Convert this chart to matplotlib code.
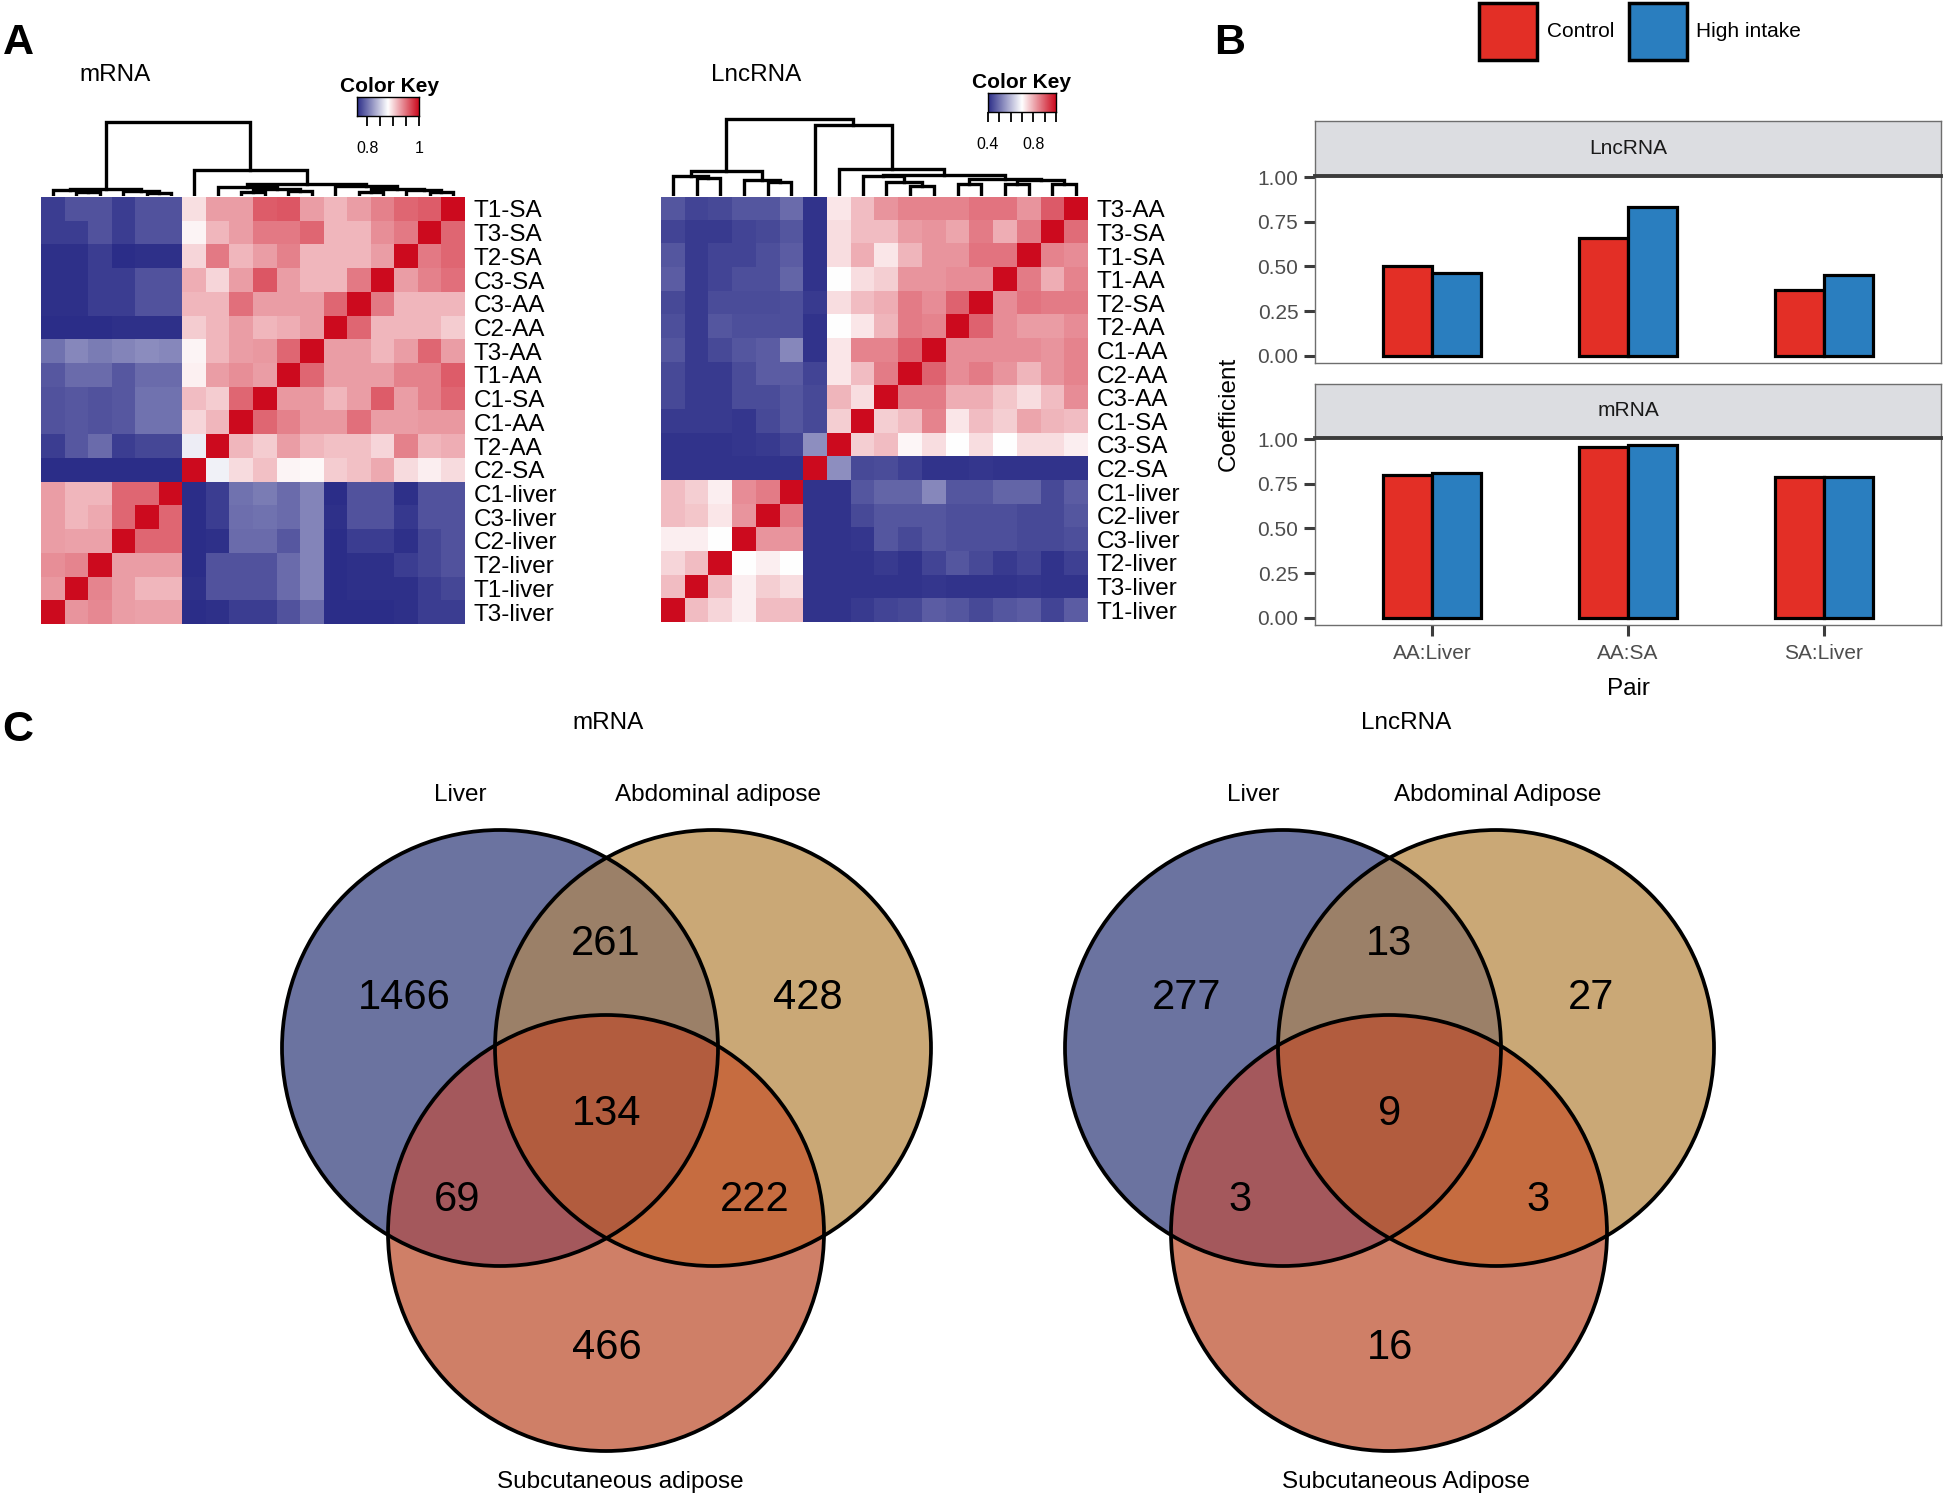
import numpy as np
import matplotlib
matplotlib.use("Agg")
import matplotlib.pyplot as plt
from matplotlib.colors import LinearSegmentedColormap, to_rgba
from matplotlib.patches import Patch, Circle

plt.rcParams['font.family'] = ['Liberation Sans', 'DejaVu Sans']

# ---------------- data ----------------
mrna_rows = ["T1-SA", "T3-SA", "T2-SA", "C3-SA", "C3-AA", "C2-AA", "T3-AA", "T1-AA", "C1-SA",
             "C1-AA", "T2-AA", "C2-SA", "C1-liver", "C3-liver", "C2-liver", "T2-liver", "T1-liver", "T3-liver"]
mrna_corr = np.array([
    [.770, .782, .782, .770, .782, .782, .895, .927, .927, .959, .962, .927, .915, .927, .941, .955, .959, 1.0],
    [.770, .770, .782, .770, .782, .782, .885, .915, .927, .945, .945, .955, .915, .915, .935, .945, 1.0, .955],
    [.762, .762, .770, .760, .762, .762, .900, .945, .915, .927, .941, .915, .915, .915, .927, 1.0, .945, .955],
    [.762, .762, .770, .770, .782, .782, .920, .900, .927, .962, .927, .915, .915, .945, 1.0, .927, .941, .950],
    [.762, .762, .770, .770, .782, .782, .915, .915, .950, .927, .927, .927, .955, 1.0, .945, .915, .915, .915],
    [.760, .760, .760, .762, .762, .762, .905, .915, .927, .915, .920, .927, 1.0, .955, .915, .915, .915, .905],
    [.800, .812, .805, .810, .815, .812, .885, .915, .927, .930, .955, 1.0, .927, .927, .915, .927, .955, .927],
    [.785, .796, .796, .785, .796, .796, .887, .927, .935, .927, 1.0, .955, .927, .927, .927, .941, .941, .959],
    [.782, .785, .782, .785, .800, .800, .912, .905, .955, 1.0, .930, .930, .915, .927, .959, .927, .941, .955],
    [.782, .785, .782, .785, .800, .800, .900, .915, 1.0, .955, .941, .930, .930, .950, .927, .927, .930, .930],
    [.770, .785, .796, .770, .775, .775, .870, 1.0, .915, .905, .927, .915, .910, .910, .900, .941, .915, .920],
    [.760, .760, .760, .760, .760, .760, 1.0, .872, .897, .910, .885, .883, .905, .910, .922, .897, .888, .897],
    [.927, .915, .915, .955, .955, 1.0, .760, .770, .800, .805, .796, .810, .760, .782, .782, .762, .782, .782],
    [.927, .915, .922, .955, 1.0, .955, .760, .770, .798, .800, .796, .810, .762, .782, .782, .767, .782, .782],
    [.927, .925, .925, 1.0, .955, .955, .760, .762, .796, .796, .785, .810, .760, .770, .770, .762, .775, .782],
    [.935, .940, 1.0, .927, .927, .927, .760, .782, .782, .782, .796, .810, .760, .762, .762, .770, .775, .782],
    [.930, 1.0, .940, .927, .915, .915, .762, .782, .782, .782, .796, .810, .760, .762, .762, .762, .770, .775],
    [1.0, .932, .938, .927, .925, .925, .760, .762, .770, .770, .782, .796, .760, .760, .760, .762, .770, .770],
])
# dendrogram merges (child_a, child_b, height); leaves 0..17, merge k -> id 18+k
mrna_merges = [(1, 2, 2), (0, 18, 4), (4, 5, 1.5), (3, 20, 3), (19, 21, 5.5),
               (8, 9, 2.5), (10, 11, 3), (23, 24, 5), (7, 25, 7),
               (13, 14, 2.5), (16, 17, 2), (15, 28, 4), (27, 29, 5.5), (12, 30, 8),
               (26, 31, 10), (6, 32, 24), (22, 33, 72)]

lnc_rows = ["T3-AA", "T3-SA", "T1-SA", "T1-AA", "T2-SA", "T2-AA", "C1-AA", "C2-AA", "C3-AA",
            "C1-SA", "C3-SA", "C2-SA", "C1-liver", "C2-liver", "C3-liver", "T2-liver", "T3-liver", "T1-liver"]
lnc_corr = np.array([
    [.46, .435, .44, .46, .46, .49, .41, .73, .78, .83, .85, .85, .85, .87, .87, .83, .90, 1.0],
    [.435, .42, .42, .435, .44, .46, .41, .74, .78, .78, .82, .83, .81, .86, .80, .86, 1.0, .88],
    [.46, .42, .435, .435, .45, .47, .41, .74, .80, .73, .79, .83, .83, .87, .87, 1.0, .85, .84],
    [.47, .42, .435, .45, .45, .48, .41, .70, .74, .76, .83, .83, .84, .84, 1.0, .86, .80, .85],
    [.44, .42, .445, .445, .445, .45, .42, .74, .78, .80, .86, .84, .89, 1.0, .84, .87, .86, .86],
    [.45, .42, .46, .45, .45, .45, .41, .70, .73, .79, .86, .85, 1.0, .89, .84, .82, .82, .84],
    [.46, .42, .44, .46, .47, .53, .41, .73, .85, .85, .89, 1.0, .84, .84, .84, .84, .83, .85],
    [.44, .42, .42, .445, .47, .47, .435, .73, .78, .86, 1.0, .89, .84, .86, .83, .79, .83, .85],
    [.44, .42, .42, .445, .445, .46, .44, .79, .74, 1.0, .86, .86, .80, .80, .77, .74, .78, .84],
    [.42, .42, .42, .415, .44, .46, .44, .76, 1.0, .76, .78, .85, .73, .78, .76, .81, .79, .78],
    [.41, .41, .41, .415, .42, .435, .54, 1.0, .76, .78, .71, .74, .70, .74, .70, .74, .74, .72],
    [.41, .41, .41, .41, .41, .41, 1.0, .54, .44, .445, .43, .41, .41, .415, .41, .41, .41, .41],
    [.78, .76, .72, .84, .86, 1.0, .41, .41, .46, .48, .48, .53, .46, .46, .48, .48, .44, .47],
    [.78, .77, .73, .83, 1.0, .86, .41, .41, .44, .46, .46, .46, .45, .45, .45, .44, .44, .46],
    [.72, .72, .70, 1.0, .83, .83, .41, .41, .415, .46, .44, .46, .45, .45, .45, .44, .44, .45],
    [.75, .78, 1.0, .70, .72, .70, .41, .41, .41, .42, .41, .435, .46, .44, .42, .435, .41, .43],
    [.78, 1.0, .78, .72, .76, .74, .41, .41, .41, .41, .41, .415, .41, .41, .41, .415, .41, .41],
    [1.0, .78, .75, .72, .78, .78, .41, .41, .42, .435, .44, .47, .46, .44, .46, .47, .435, .47],
])
lnc_merges = [(1, 2, 16), (0, 18, 18), (4, 5, 12), (3, 20, 14), (19, 21, 23),
              (10, 11, 8), (9, 23, 12), (8, 24, 18),
              (12, 13, 10), (14, 15, 10), (16, 17, 10), (27, 28, 14), (26, 29, 15),
              (25, 30, 19), (7, 31, 25), (6, 32, 69.5), (22, 33, 75)]

mrna_key_range = (0.76, 1.0)
mrna_key_ticks = [0.8, 0.85, 0.9, 0.95, 1.0]
mrna_key_labels = ["0.8", "", "", "", "1"]
lnc_key_range = (0.4, 1.0)
lnc_key_ticks = [0.4, 0.5, 0.6, 0.7, 0.8, 0.9, 1.0]
lnc_key_labels = ["0.4", "", "", "", "0.8", "", ""]

pairs = ["AA:Liver", "AA:SA", "SA:Liver"]
groups = ["Control", "High intake"]
lnc_control = [0.505, 0.66, 0.37]
lnc_high = [0.465, 0.835, 0.45]
mrna_control = [0.80, 0.955, 0.79]
mrna_high = [0.81, 0.965, 0.79]
coef_ticks = [0.0, 0.25, 0.5, 0.75, 1.0]

venn_regions = ["L", "A", "LA", "S", "LS", "AS", "LAS"]
mrna_venn_counts = [1466, 428, 261, 466, 69, 222, 134]
lnc_venn_counts = [277, 27, 13, 16, 3, 3, 9]
mrna_venn_sets = ["Liver", "Abdominal adipose", "Subcutaneous adipose"]
lnc_venn_sets = ["Liver", "Abdominal Adipose", "Subcutaneous Adipose"]

# ---------------- figure ----------------
W, H = 1946, 1496
fig = plt.figure(figsize=(W / 100, H / 100), dpi=100)


def box(x0, y0, x1, y1):
    return [x0 / W, 1 - y1 / H, (x1 - x0) / W, (y1 - y0) / H]


cmap = LinearSegmentedColormap.from_list("bluered", ["#2B2D88", "#FFFFFF", "#CC0A1E"])


def draw_heatmap(rect, mat, labels, vmin, vmax):
    ax = fig.add_axes(box(*rect))
    n = len(labels)
    ax.imshow(mat, cmap=cmap, vmin=vmin, vmax=vmax, aspect='auto',
              interpolation='nearest', extent=(0, n, n, 0))
    ax.set_xticks([])
    ax.set_yticks(np.arange(n) + 0.5)
    ax.set_yticklabels(labels, fontsize=17.5)
    ax.yaxis.tick_right()
    ax.tick_params(axis='y', length=0, pad=6)
    for s in ax.spines.values():
        s.set_visible(False)
    return ax


def draw_dendro(rect, merges, n):
    ax = fig.add_axes(box(*rect))
    xpos = {i: i + 0.5 for i in range(n)}
    hpos = {i: 0.0 for i in range(n)}
    for k, (a, b, h) in enumerate(merges):
        xa, xb = xpos[a], xpos[b]
        ax.plot([xa, xa, xb, xb], [hpos[a], h, h, hpos[b]], color='black', lw=2.4,
                solid_joinstyle='miter', solid_capstyle='projecting')
        xpos[n + k] = (xa + xb) / 2
        hpos[n + k] = h
    ax.set_xlim(0, n)
    ax.set_ylim(-2, 78)
    ax.axis('off')


def draw_key(rect, rng, ticks, labels, title_xy):
    ax = fig.add_axes(box(*rect))
    grad = np.linspace(rng[0], rng[1], 256)[None, :]
    ax.imshow(grad, cmap=cmap, vmin=rng[0], vmax=rng[1], aspect='auto',
              extent=(rng[0], rng[1], 0, 1))
    ax.set_xlim(*rng)
    ax.set_yticks([])
    ax.set_xticks(ticks)
    ax.set_xticklabels(labels, fontsize=11.5)
    ax.tick_params(axis='x', length=7, width=1.3, pad=11, color='black')
    for s in ax.spines.values():
        s.set_linewidth(1.0)
    fig.text(title_xy[0] / W, 1 - title_xy[1] / H, "Color Key", fontsize=15,
             fontweight='bold', ha='center', va='center')


# Panel A
mr_rect = (41, 197, 465, 624)
ln_rect = (661, 197, 1088, 622)
draw_heatmap(mr_rect, mrna_corr, mrna_rows, *mrna_key_range)
draw_heatmap(ln_rect, lnc_corr, lnc_rows, *lnc_key_range)
draw_dendro((mr_rect[0], 116, mr_rect[2], 196), mrna_merges, 18)
draw_dendro((ln_rect[0], 116, ln_rect[2], 196), lnc_merges, 18)
draw_key((357, 97, 419, 116), mrna_key_range, mrna_key_ticks, mrna_key_labels, (389, 86))
draw_key((988, 93, 1056, 112), lnc_key_range, lnc_key_ticks, lnc_key_labels, (1022, 82))
fig.text(115 / W, 1 - 75 / H, "mRNA", fontsize=17.5, ha='center', va='center')
fig.text(756 / W, 1 - 75 / H, "LncRNA", fontsize=17.5, ha='center', va='center')

# Panel B
red, blue = "#E32F26", "#2A7EBF"
x = np.arange(1, len(pairs) + 1)
bw = 0.25
panels = [("LncRNA", (1315, 121, 1941, 176), (1315, 176, 1941, 363), lnc_control, lnc_high, False),
          ("mRNA", (1315, 384, 1941, 438), (1315, 438, 1941, 625), mrna_control, mrna_high, True)]
for name, srect, prect, ctrl, high, showx in panels:
    sax = fig.add_axes(box(*srect))
    sax.set_facecolor("#DCDDE1")
    sax.set_xticks([]); sax.set_yticks([])
    for s in sax.spines.values():
        s.set_color("#6E6E6E"); s.set_linewidth(1.0)
    sax.text(0.5, 0.5, name, transform=sax.transAxes, ha='center', va='center',
             fontsize=15, color="#1A1A1A")
    ax = fig.add_axes(box(*prect))
    ax.bar(x - bw / 2, ctrl, width=bw, color=red, edgecolor='black', linewidth=2.3, zorder=3)
    ax.bar(x + bw / 2, high, width=bw, color=blue, edgecolor='black', linewidth=2.3, zorder=3)
    ax.set_xlim(0.4, 3.6)
    ax.set_ylim(-0.04, 1.006)
    ax.set_yticks(coef_ticks)
    ax.set_yticklabels([f"{t:.2f}" for t in coef_ticks], fontsize=15, color="#4D4D4D")
    ax.tick_params(axis='y', length=8, width=2.2, color="#3C3C3C", pad=4)
    for s in ["left", "right", "bottom"]:
        ax.spines[s].set_color("#6E6E6E"); ax.spines[s].set_linewidth(1.0)
    ax.spines["top"].set_color("#3C3C3C"); ax.spines["top"].set_linewidth(2.8)
    if showx:
        ax.set_xticks(x)
        ax.set_xticklabels(pairs, fontsize=15, color="#4D4D4D")
        ax.tick_params(axis='x', length=8, width=2.2, color="#3C3C3C", pad=6)
    else:
        ax.set_xticks([])

handles = [Patch(facecolor=red, edgecolor='black', linewidth=2.5),
           Patch(facecolor=blue, edgecolor='black', linewidth=2.5)]
fig.legend(handles, groups, loc='upper left', bbox_to_anchor=(1479 / W, 1 - 3 / H), ncol=2,
           frameon=False, fontsize=15, handlelength=2.8, handleheight=3.85, handletextpad=0.45,
           columnspacing=0.7, borderpad=0, borderaxespad=0)
fig.text(1229 / W, 1 - 414 / H, "Coefficient", rotation=90, fontsize=17.5, ha='center', va='center')
fig.text(1628 / W, 1 - 689 / H, "Pair", fontsize=17.5, ha='center', va='center')

# Panel C (Venn) on a full-figure pixel axes
vax = fig.add_axes([0, 0, 1, 1])
vax.patch.set_alpha(0)
region_colors = {1: "#6B73A0", 2: "#CAA876", 4: "#CF7F67", 3: "#9B8068",
                 5: "#A4585C", 6: "#C66C40", 7: "#B25C3E"}
r = 218
label_off = {"L": (-202, -58), "A": (202, -58), "LA": (0, -112), "LAS": (1, 58),
             "LS": (-149, 144), "AS": (149, 144), "S": (1, 292)}


def draw_venn(cx, counts, sets, title, set_label_pos):
    centers = [(cx - 106, 1048), (cx + 107, 1048), (cx, 1233)]
    x0, x1 = cx - 106 - r - 4, cx + 107 + r + 4
    y0, y1 = 1048 - r - 4, 1233 + r + 4
    xs = np.arange(x0, x1) + 0.5
    ys = np.arange(y0, y1) + 0.5
    X, Y = np.meshgrid(xs, ys)
    code = np.zeros(X.shape, dtype=int)
    for bit, (ccx, ccy) in zip([1, 2, 4], centers):
        code += bit * (((X - ccx) ** 2 + (Y - ccy) ** 2) <= r ** 2)
    img = np.zeros(X.shape + (4,))
    for c, col in region_colors.items():
        img[code == c] = to_rgba(col)
    vax.imshow(img, extent=(x0, x1, y1, y0), interpolation='nearest', zorder=1)
    for ccx, ccy in centers:
        vax.add_patch(Circle((ccx, ccy), r, fill=False, edgecolor='black', lw=2.7, zorder=2))
    base = (cx, 1056)
    for reg, cnt in zip(venn_regions, counts):
        dx, dy = label_off[reg]
        vax.text(base[0] + dx, base[1] + dy, str(cnt), fontsize=30, ha='center', va='center', zorder=3)
    for name, (tx, ty) in zip(sets, set_label_pos):
        vax.text(tx, ty, name, fontsize=17.5, ha='center', va='center')
    vax.text(title[1], 723, title[0], fontsize=17.5, ha='center', va='center')


draw_venn(606, mrna_venn_counts, mrna_venn_sets, ("mRNA", 608),
          [(460, 795), (718, 795), (620, 1482)])
draw_venn(1389, lnc_venn_counts, lnc_venn_sets, ("LncRNA", 1406),
          [(1253, 795), (1498, 795), (1406, 1482)])

vax.set_xlim(0, W)
vax.set_ylim(H, 0)
vax.set_aspect('auto')
vax.axis('off')

# panel letters
for letter, (lx, ly) in zip("ABC", [(18, 43), (1230, 43), (18, 730)]):
    vax.text(lx, ly, letter, fontsize=31, fontweight='bold', ha='center', va='center')

fig.savefig("out.png", dpi=100)
